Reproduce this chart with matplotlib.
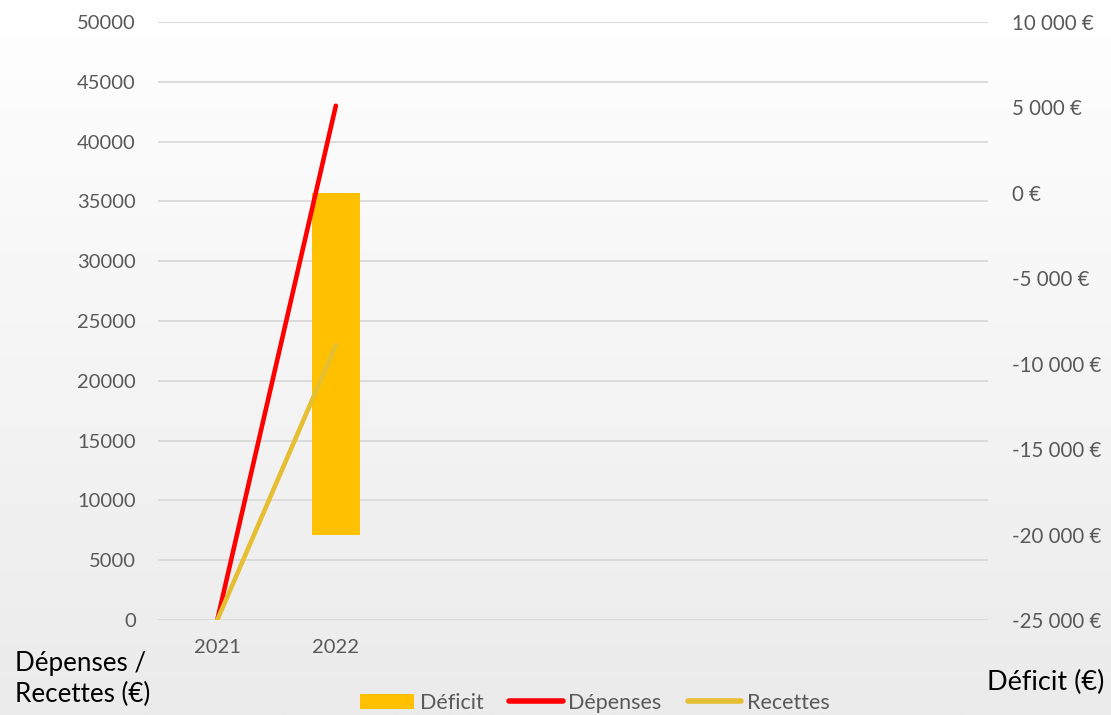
import numpy as np
import matplotlib.pyplot as plt
from matplotlib.patches import Patch
from matplotlib.lines import Line2D
from matplotlib.colors import LinearSegmentedColormap

# Data
years = ["2021", "2022", "", "", "", "", ""]
depenses = [0, 43000]
recettes = [0, 23000]
deficit = [0, -20000]

left_ticks = list(range(0, 50001, 5000))
right_ticks = list(range(-25000, 10001, 5000))

plt.rcParams['font.family'] = ['Lato', 'DejaVu Sans']

TICK_COLOR = '#595959'
GRID_COLOR = '#d9d9d9'
C_DEFICIT = '#FFC000'
C_DEPENSES = '#FF0000'
C_RECETTES = '#E6BE32'

fig = plt.figure(figsize=(11.11, 7.15), dpi=100)

# Background with a soft vertical gradient
bg = fig.add_axes([0, 0, 1, 1], zorder=-10)
grad = np.linspace(0, 1, 256).reshape(-1, 1)
cmap = LinearSegmentedColormap.from_list('bg', ['#ffffff', '#ebebeb'])
bg.imshow(grad, aspect='auto', cmap=cmap, extent=[0, 1, 0, 1], origin='upper')
bg.set_axis_off()

rect = [158 / 1111, 95 / 715, 830 / 1111, 598 / 715]
x = np.arange(len(years))

# Bottom layer: left scale, gridlines and labels
ax_grid = fig.add_axes(rect)
ax_grid.patch.set_visible(False)
ax_grid.set_xlim(-0.5, len(years) - 0.5)
ax_grid.set_ylim(0, 50000)
ax_grid.set_yticks(left_ticks)
ax_grid.set_yticklabels([str(v) for v in left_ticks])
ax_grid.set_xticks(x)
ax_grid.set_xticklabels(years)
ax_grid.yaxis.grid(True, color=GRID_COLOR, linewidth=1.3)
ax_grid.set_axisbelow(True)
for s in ax_grid.spines.values():
    s.set_visible(False)
ax_grid.tick_params(axis='y', length=0, pad=16, labelsize=14.5, labelcolor=TICK_COLOR)
ax_grid.tick_params(axis='x', length=0, pad=14, labelsize=14.5, labelcolor=TICK_COLOR)

# Middle layer: deficit bars on the right scale
ax_bar = fig.add_axes(rect, sharex=ax_grid)
ax_bar.patch.set_visible(False)
ax_bar.bar(x[:len(deficit)], deficit, width=0.4, color=C_DEFICIT, zorder=2)
ax_bar.set_ylim(-25000, 10000)
ax_bar.yaxis.tick_right()
ax_bar.set_yticks(right_ticks)
ax_bar.set_yticklabels([f"{v:,.0f} €".replace(",", " ") for v in right_ticks],
                       ha='left')
ax_bar.tick_params(axis='y', length=0, pad=17, labelsize=14.8, labelcolor=TICK_COLOR)
ax_bar.tick_params(axis='x', length=0, labelbottom=False)
for s in ax_bar.spines.values():
    s.set_visible(False)

# Top layer: expense and revenue lines on the left scale
ax_line = fig.add_axes(rect, sharex=ax_grid, sharey=ax_grid)
ax_line.patch.set_visible(False)
ax_line.plot(x[:len(depenses)], depenses, color=C_DEPENSES, lw=3.3,
             solid_capstyle='round')
ax_line.plot(x[:len(recettes)], recettes, color=C_RECETTES, lw=3.3,
             solid_capstyle='round')
ax_line.set_axis_off()

# Axis titles
fig.text(15 / 1111, 1 - 679 / 715, "Dépenses /\nRecettes (€)", ha='left',
         va='center', fontsize=18.7, color='#000000', linespacing=1.32)
fig.text(1104 / 1111, 1 - 682 / 715, "Déficit (€)", ha='right', va='center',
         fontsize=19.5, color='#000000')

# Legend
handles = [
    Patch(facecolor=C_DEFICIT, edgecolor='none', label='Déficit'),
    Line2D([0], [0], color=C_DEPENSES, lw=4, solid_capstyle='round', label='Dépenses'),
    Line2D([0], [0], color=C_RECETTES, lw=4, solid_capstyle='round', label='Recettes'),
]
leg = fig.legend(handles=handles, loc='center', bbox_to_anchor=(595 / 1111, 1 - 703 / 715),
                 ncol=3, frameon=False, fontsize=15.5, handlelength=2.5,
                 handletextpad=0.25, columnspacing=1.2, borderpad=0, borderaxespad=0)
for t in leg.get_texts():
    t.set_color(TICK_COLOR)

fig.savefig('out.png', dpi=100)
